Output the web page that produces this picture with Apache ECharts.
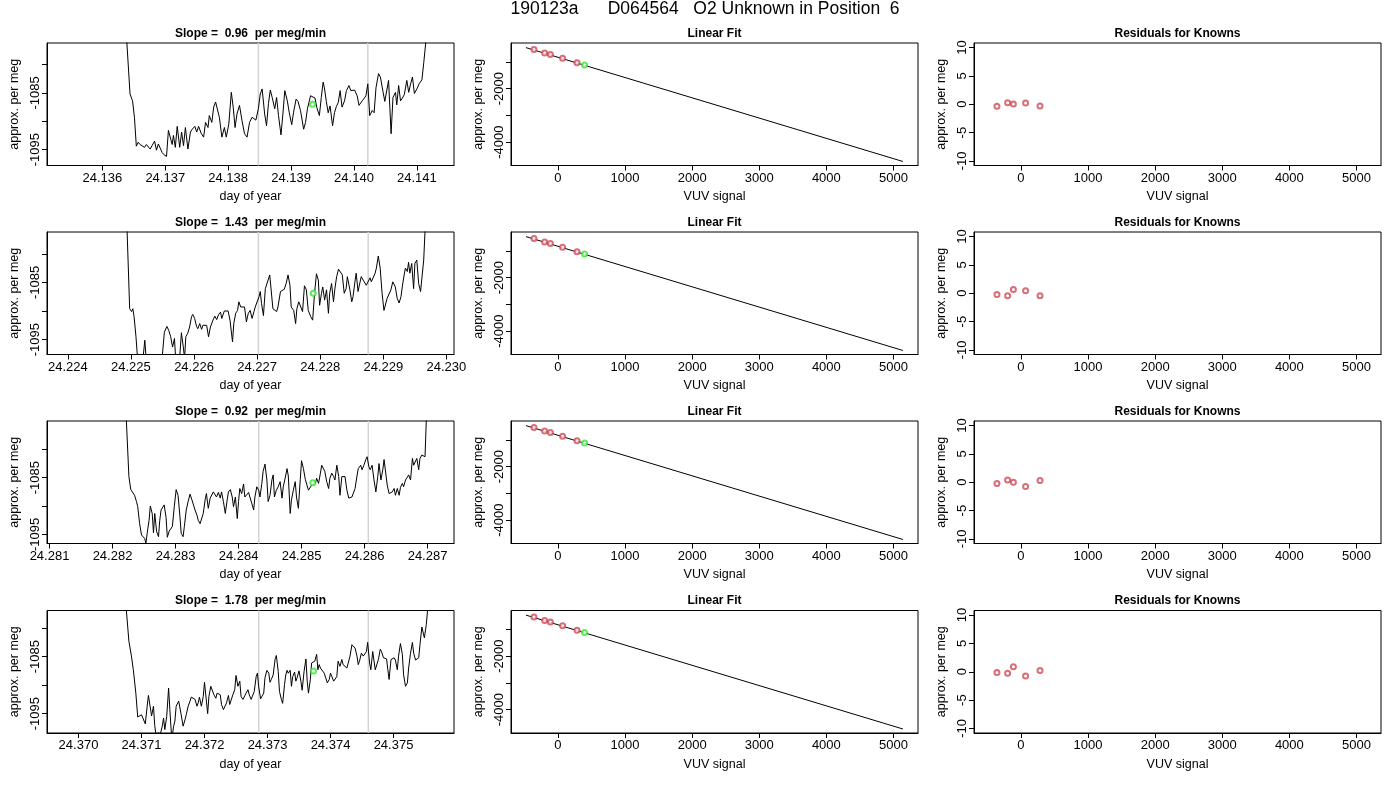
<!DOCTYPE html>
<html lang="en">
<head>
    <meta charset="UTF-8">
    <title>190123a D064564 O2 Unknown in Position 6</title>
    <script src="https://cdn.jsdelivr.net/npm/echarts@6/dist/echarts.min.js"></script>
    <style>
        html, body {
            margin: 0;
            background: #fff;
        }

        #main {
            width: 1400px;
            height: 800px;
        }
    </style>
</head>
<body>
<div id="main"></div>
<script>
    // ---- data ----
    var mainTitle = '190123a      D064564   O2 Unknown in Position  6'
    var slopes = ['0.96', '1.43', '0.92', '1.78']

    // row 1 trace (day of year, approx. per meg)
    var t1 = [24.13634, 24.13639, 24.13644, 24.13648, 24.13651, 24.13654, 24.13657, 24.13660, 24.13663, 24.13667, 24.13670, 24.13673, 24.13676, 24.13679, 24.13683, 24.13686, 24.13689, 24.13692, 24.13695, 24.13698, 24.13702, 24.13705, 24.13708, 24.13711, 24.13713, 24.13716, 24.13719, 24.13723, 24.13726, 24.13729, 24.13732, 24.13736, 24.13740, 24.13743, 24.13747, 24.13750, 24.13753, 24.13757, 24.13761, 24.13764, 24.13768, 24.13770, 24.13774, 24.13777, 24.13780, 24.13783, 24.13786, 24.13790, 24.13794, 24.13797, 24.13801, 24.13805, 24.13808, 24.13811, 24.13814, 24.13818, 24.13822, 24.13826, 24.13830, 24.13834, 24.13838, 24.13841, 24.13844, 24.13848, 24.13851, 24.13854, 24.13858, 24.13861, 24.13864, 24.13867, 24.13870, 24.13874, 24.13877, 24.13880, 24.13884, 24.13887, 24.13890, 24.13894, 24.13897, 24.13901, 24.13904, 24.13908, 24.13911, 24.13915, 24.13920, 24.13923, 24.13926, 24.13931, 24.13934, 24.13938, 24.13941, 24.13945, 24.13948, 24.13951, 24.13953, 24.13956, 24.13959, 24.13962, 24.13966, 24.13969, 24.13972, 24.13975, 24.13978, 24.13981, 24.13985, 24.13988, 24.13992, 24.13995, 24.13998, 24.14001, 24.14005, 24.14008, 24.14013, 24.14016, 24.14019, 24.14022, 24.14025, 24.14029, 24.14032, 24.14035, 24.14039, 24.14042, 24.14046, 24.14049, 24.14052, 24.14055, 24.14059, 24.14062, 24.14066, 24.14068, 24.14071, 24.14074, 24.14077, 24.14080, 24.14084, 24.14087, 24.14090, 24.14093, 24.14096, 24.14100, 24.14104, 24.14108, 24.14111, 24.14114, 24.14120]
    var v1 = [-1040, -1076.2, -1085.2, -1086.4, -1089.3, -1094.4, -1093.7, -1094.1, -1093.9, -1094.6, -1094.1, -1094.0, -1094.9, -1094.3, -1093.5, -1095.1, -1094.0, -1093.7, -1095.5, -1095.9, -1096.2, -1091.6, -1091.4, -1094.1, -1092.5, -1094.6, -1090.9, -1094.6, -1091.9, -1094.3, -1091.1, -1094.9, -1091.9, -1091.4, -1090.9, -1091.9, -1090.9, -1092.1, -1092.8, -1090.2, -1091.1, -1089.0, -1090.2, -1087.5, -1086.6, -1086.4, -1089.3, -1092.8, -1091.1, -1092.8, -1090.5, -1084.9, -1087.5, -1091.1, -1088.7, -1087.2, -1089.9, -1092.2, -1092.8, -1090.2, -1089.3, -1089.0, -1089.8, -1087.8, -1085.2, -1084.3, -1088.7, -1090.8, -1086.9, -1084.5, -1085.8, -1087.8, -1085.8, -1089.0, -1092.4, -1088.7, -1084.6, -1086.4, -1088.4, -1090.6, -1088.4, -1086.1, -1086.5, -1088.1, -1091.4, -1090.2, -1087.8, -1085.5, -1085.6, -1085.9, -1087.6, -1089.0, -1085.8, -1083.1, -1084.1, -1086.5, -1088.5, -1087.3, -1090.8, -1088.5, -1087.4, -1086.7, -1084.6, -1087.5, -1086.4, -1084.6, -1083.7, -1084.6, -1084.9, -1084.5, -1085.5, -1087.2, -1086.4, -1086.0, -1085.5, -1083.4, -1089.0, -1088.1, -1088.5, -1084.1, -1081.6, -1082.2, -1084.7, -1086.5, -1086.6, -1082.8, -1092.2, -1085.8, -1084.9, -1087.1, -1083.7, -1086.4, -1085.9, -1085.3, -1082.8, -1084.9, -1083.4, -1082.2, -1085.1, -1084.3, -1083.3, -1082.7, -1079.6, -1076.2, -1040]

    // row 2 trace
    var t2 = [24.22488, 24.22494, 24.22498, 24.22501, 24.22503, 24.22505, 24.22508, 24.22511, 24.22514, 24.22519, 24.22522, 24.22525, 24.22529, 24.22533, 24.22538, 24.22542, 24.22546, 24.22550, 24.22553, 24.22557, 24.22560, 24.22563, 24.22566, 24.22569, 24.22571, 24.22575, 24.22577, 24.22580, 24.22583, 24.22585, 24.22587, 24.22590, 24.22593, 24.22596, 24.22598, 24.22601, 24.22604, 24.22606, 24.22609, 24.22612, 24.22614, 24.22617, 24.22620, 24.22623, 24.22626, 24.22630, 24.22633, 24.22636, 24.22639, 24.22642, 24.22644, 24.22648, 24.22651, 24.22654, 24.22657, 24.22661, 24.22663, 24.22666, 24.22669, 24.22671, 24.22674, 24.22677, 24.22680, 24.22683, 24.22686, 24.22689, 24.22692, 24.22695, 24.22697, 24.22700, 24.22703, 24.22705, 24.22707, 24.22710, 24.22713, 24.22716, 24.22720, 24.22722, 24.22725, 24.22728, 24.22731, 24.22733, 24.22737, 24.22740, 24.22743, 24.22746, 24.22749, 24.22752, 24.22754, 24.22758, 24.22761, 24.22763, 24.22766, 24.22769, 24.22772, 24.22775, 24.22778, 24.22781, 24.22785, 24.22788, 24.22791, 24.22794, 24.22797, 24.22799, 24.22802, 24.22804, 24.22807, 24.22810, 24.22813, 24.22815, 24.22818, 24.22821, 24.22823, 24.22826, 24.22829, 24.22832, 24.22835, 24.22838, 24.22841, 24.22843, 24.22847, 24.22850, 24.22852, 24.22855, 24.22857, 24.22860, 24.22862, 24.22865, 24.22868, 24.22870, 24.22873, 24.22876, 24.22879, 24.22881, 24.22884, 24.22887, 24.22889, 24.22892, 24.22895, 24.22898, 24.22901, 24.22903, 24.22906, 24.22909, 24.22912, 24.22915, 24.22919, 24.22922, 24.22925, 24.22928, 24.22930, 24.22933, 24.22935, 24.22938, 24.22940, 24.22942, 24.22945, 24.22948, 24.22950, 24.22953, 24.22956, 24.22959, 24.22962, 24.22964, 24.22966, 24.22970]
    var v2 = [-1040, -1076.2, -1089.6, -1090.1, -1089.6, -1091.0, -1094.5, -1099.0, -1100.0, -1098.5, -1095.1, -1099.5, -1100.5, -1099.0, -1100.0, -1099.0, -1099.5, -1097.5, -1093.7, -1092.7, -1093.4, -1094.5, -1096.3, -1094.8, -1098.5, -1097.6, -1098.5, -1093.8, -1096.3, -1098.3, -1094.5, -1093.9, -1092.8, -1091.0, -1090.6, -1091.3, -1092.7, -1093.1, -1092.2, -1093.2, -1092.5, -1092.8, -1092.5, -1094.5, -1092.8, -1091.6, -1090.9, -1091.5, -1090.6, -1090.2, -1091.3, -1090.0, -1089.9, -1090.0, -1091.6, -1095.4, -1092.2, -1090.4, -1089.9, -1088.4, -1089.3, -1089.0, -1089.3, -1091.9, -1090.4, -1089.9, -1091.3, -1090.1, -1089.3, -1089.6, -1087.5, -1086.6, -1088.7, -1090.8, -1086.1, -1086.3, -1083.7, -1084.0, -1089.6, -1089.9, -1090.1, -1089.3, -1086.6, -1086.8, -1086.2, -1085.2, -1083.7, -1085.5, -1089.3, -1089.9, -1092.2, -1089.6, -1088.4, -1088.4, -1090.1, -1085.6, -1086.3, -1089.9, -1091.0, -1091.6, -1086.9, -1083.5, -1084.6, -1089.0, -1086.9, -1085.8, -1088.1, -1086.3, -1090.4, -1086.9, -1085.2, -1088.4, -1086.3, -1084.0, -1082.7, -1082.7, -1083.7, -1086.9, -1086.1, -1084.0, -1086.3, -1088.4, -1087.5, -1084.9, -1083.4, -1086.6, -1085.5, -1084.0, -1084.6, -1084.3, -1085.5, -1085.2, -1084.2, -1084.9, -1084.6, -1083.4, -1082.5, -1080.4, -1082.5, -1086.9, -1089.9, -1089.6, -1087.8, -1087.5, -1086.3, -1084.9, -1085.8, -1087.8, -1088.6, -1087.5, -1085.8, -1083.7, -1082.5, -1083.1, -1081.5, -1083.4, -1081.7, -1086.1, -1081.7, -1081.1, -1085.2, -1086.6, -1086.6, -1081.1, -1076.2, -1040]

    // row 3 trace
    var t3 = [24.28218, 24.28222, 24.28226, 24.28229, 24.28231, 24.28235, 24.28238, 24.28240, 24.28243, 24.28246, 24.28248, 24.28251, 24.28253, 24.28255, 24.28258, 24.28260, 24.28263, 24.28265, 24.28267, 24.28270, 24.28273, 24.28275, 24.28277, 24.28280, 24.28282, 24.28285, 24.28287, 24.28290, 24.28293, 24.28295, 24.28298, 24.28301, 24.28304, 24.28307, 24.28309, 24.28312, 24.28314, 24.28317, 24.28320, 24.28323, 24.28326, 24.28328, 24.28331, 24.28334, 24.28336, 24.28339, 24.28341, 24.28344, 24.28347, 24.28349, 24.28352, 24.28355, 24.28357, 24.28360, 24.28363, 24.28365, 24.28368, 24.28371, 24.28373, 24.28376, 24.28379, 24.28382, 24.28384, 24.28387, 24.28390, 24.28392, 24.28395, 24.28398, 24.28400, 24.28402, 24.28405, 24.28408, 24.28410, 24.28413, 24.28416, 24.28418, 24.28421, 24.28424, 24.28426, 24.28429, 24.28432, 24.28434, 24.28437, 24.28439, 24.28442, 24.28445, 24.28447, 24.28450, 24.28453, 24.28455, 24.28457, 24.28460, 24.28463, 24.28466, 24.28469, 24.28471, 24.28474, 24.28477, 24.28479, 24.28482, 24.28484, 24.28487, 24.28490, 24.28492, 24.28495, 24.28498, 24.28500, 24.28503, 24.28506, 24.28508, 24.28511, 24.28514, 24.28516, 24.28519, 24.28522, 24.28524, 24.28527, 24.28530, 24.28532, 24.28535, 24.28537, 24.28540, 24.28543, 24.28545, 24.28548, 24.28551, 24.28553, 24.28556, 24.28559, 24.28561, 24.28564, 24.28567, 24.28569, 24.28572, 24.28575, 24.28577, 24.28580, 24.28582, 24.28585, 24.28588, 24.28590, 24.28594, 24.28596, 24.28599, 24.28602, 24.28604, 24.28607, 24.28609, 24.28612, 24.28615, 24.28618, 24.28621, 24.28623, 24.28626, 24.28629, 24.28631, 24.28633, 24.28636, 24.28639, 24.28641, 24.28644, 24.28647, 24.28649, 24.28652, 24.28655, 24.28657, 24.28660, 24.28662, 24.28665, 24.28668, 24.28670, 24.28673, 24.28676, 24.28678, 24.28680, 24.28683, 24.28686, 24.28688, 24.28691, 24.28694, 24.28696, 24.28698, 24.28701]
    var v3 = [-1040, -1075.0, -1084.8, -1087.1, -1087.2, -1088.1, -1089.2, -1090.1, -1093.1, -1095.1, -1094.8, -1095.7, -1096.6, -1094.8, -1092.5, -1090.0, -1091.3, -1094.7, -1091.3, -1094.5, -1095.4, -1092.5, -1090.7, -1090.8, -1089.8, -1092.0, -1095.5, -1094.4, -1094.5, -1093.6, -1090.1, -1087.1, -1088.1, -1091.8, -1094.8, -1095.4, -1093.6, -1090.7, -1089.2, -1087.9, -1088.9, -1089.2, -1090.7, -1091.6, -1092.5, -1093.1, -1093.1, -1091.3, -1088.9, -1087.8, -1090.4, -1088.6, -1088.4, -1087.5, -1087.8, -1088.4, -1087.6, -1088.6, -1087.5, -1089.2, -1091.3, -1088.9, -1087.5, -1087.1, -1088.4, -1090.1, -1088.4, -1092.2, -1089.2, -1086.9, -1087.8, -1086.1, -1088.4, -1088.1, -1087.6, -1088.4, -1089.5, -1090.7, -1088.4, -1086.6, -1087.2, -1088.4, -1086.0, -1083.9, -1082.6, -1085.4, -1089.2, -1088.1, -1085.4, -1084.5, -1088.4, -1087.2, -1086.6, -1085.7, -1088.6, -1086.6, -1085.1, -1083.4, -1084.7, -1091.3, -1088.9, -1087.2, -1085.7, -1088.4, -1090.4, -1085.3, -1082.0, -1083.4, -1085.3, -1085.4, -1087.2, -1086.9, -1086.3, -1086.0, -1086.0, -1085.1, -1086.0, -1084.2, -1082.8, -1082.9, -1083.9, -1085.7, -1086.9, -1085.1, -1084.2, -1084.8, -1085.4, -1082.8, -1084.8, -1088.1, -1084.8, -1084.5, -1084.8, -1087.2, -1088.6, -1088.7, -1088.4, -1088.6, -1086.9, -1084.7, -1083.4, -1082.8, -1083.6, -1082.8, -1081.8, -1081.3, -1083.1, -1083.6, -1082.8, -1085.4, -1087.5, -1084.8, -1082.5, -1085.4, -1083.6, -1081.8, -1081.8, -1086.3, -1087.8, -1087.5, -1087.5, -1086.9, -1088.1, -1086.9, -1088.1, -1086.7, -1086.0, -1086.6, -1085.4, -1084.9, -1084.5, -1085.4, -1081.6, -1082.8, -1083.1, -1081.6, -1083.6, -1081.6, -1081.0, -1080.7, -1081.3, -1075.0, -1040]

    // row 4 trace
    var t4 = [24.37072, 24.37076, 24.37080, 24.37084, 24.37087, 24.37091, 24.37094, 24.37097, 24.37100, 24.37103, 24.37106, 24.37109, 24.37111, 24.37114, 24.37116, 24.37119, 24.37121, 24.37124, 24.37127, 24.37129, 24.37133, 24.37135, 24.37137, 24.37140, 24.37143, 24.37145, 24.37148, 24.37151, 24.37153, 24.37155, 24.37159, 24.37161, 24.37163, 24.37166, 24.37169, 24.37171, 24.37174, 24.37177, 24.37179, 24.37182, 24.37185, 24.37188, 24.37190, 24.37192, 24.37195, 24.37198, 24.37200, 24.37203, 24.37205, 24.37207, 24.37210, 24.37213, 24.37215, 24.37218, 24.37220, 24.37223, 24.37225, 24.37227, 24.37230, 24.37233, 24.37235, 24.37238, 24.37240, 24.37243, 24.37245, 24.37248, 24.37250, 24.37253, 24.37256, 24.37258, 24.37261, 24.37264, 24.37266, 24.37269, 24.37271, 24.37274, 24.37276, 24.37279, 24.37282, 24.37284, 24.37286, 24.37289, 24.37292, 24.37294, 24.37296, 24.37299, 24.37302, 24.37304, 24.37306, 24.37309, 24.37312, 24.37314, 24.37317, 24.37319, 24.37322, 24.37324, 24.37327, 24.37329, 24.37331, 24.37333, 24.37336, 24.37338, 24.37340, 24.37343, 24.37345, 24.37347, 24.37350, 24.37353, 24.37355, 24.37358, 24.37361, 24.37363, 24.37365, 24.37368, 24.37370, 24.37373, 24.37375, 24.37378, 24.37380, 24.37382, 24.37384, 24.37387, 24.37390, 24.37392, 24.37395, 24.37398, 24.37400, 24.37402, 24.37405, 24.37408, 24.37410, 24.37412, 24.37415, 24.37418, 24.37420, 24.37423, 24.37426, 24.37428, 24.37431, 24.37434, 24.37436, 24.37439, 24.37442, 24.37444, 24.37446, 24.37449, 24.37452, 24.37454, 24.37457, 24.37459, 24.37462, 24.37464, 24.37467, 24.37469, 24.37471, 24.37473, 24.37476, 24.37479, 24.37481, 24.37484, 24.37486, 24.37489, 24.37491, 24.37493, 24.37496, 24.37498, 24.37501, 24.37503, 24.37506, 24.37508, 24.37511, 24.37514, 24.37516, 24.37519, 24.37522, 24.37524, 24.37527, 24.37530, 24.37532, 24.37535, 24.37538, 24.37540, 24.37542, 24.37545, 24.37547, 24.37549, 24.37552, 24.37554, 24.37557]
    var v4 = [-1040, -1076.9, -1082.3, -1084.9, -1087.3, -1091.4, -1095.6, -1095.4, -1095.2, -1095.5, -1096.8, -1093.7, -1091.8, -1091.8, -1095.4, -1093.7, -1097.1, -1099.5, -1098.3, -1099.0, -1097.2, -1095.8, -1097.8, -1095.5, -1090.5, -1094.3, -1099.5, -1097.2, -1096.3, -1093.7, -1092.8, -1092.5, -1095.2, -1097.2, -1096.1, -1095.2, -1093.7, -1092.8, -1092.1, -1092.3, -1092.5, -1093.7, -1093.1, -1092.1, -1093.7, -1092.0, -1089.5, -1092.8, -1095.0, -1092.0, -1090.2, -1090.2, -1091.7, -1092.3, -1091.4, -1091.1, -1091.7, -1093.4, -1094.3, -1094.3, -1093.1, -1091.8, -1093.4, -1093.7, -1091.7, -1090.8, -1088.3, -1090.2, -1089.3, -1092.0, -1092.5, -1092.5, -1091.4, -1090.8, -1091.7, -1092.5, -1092.8, -1091.1, -1088.5, -1087.9, -1090.3, -1092.4, -1092.5, -1091.4, -1088.7, -1087.4, -1087.9, -1089.5, -1089.0, -1088.2, -1085.5, -1084.8, -1087.6, -1091.1, -1092.5, -1093.2, -1089.9, -1088.2, -1087.4, -1087.9, -1087.4, -1090.2, -1088.5, -1087.7, -1089.3, -1088.7, -1087.5, -1089.3, -1090.9, -1087.6, -1085.4, -1089.3, -1091.4, -1089.0, -1086.1, -1086.2, -1085.8, -1084.6, -1087.3, -1086.4, -1087.0, -1087.3, -1087.9, -1088.2, -1089.6, -1089.0, -1087.9, -1088.2, -1089.3, -1089.6, -1088.5, -1085.8, -1086.7, -1085.5, -1086.4, -1086.7, -1087.0, -1087.1, -1084.9, -1082.9, -1082.6, -1083.5, -1084.9, -1086.4, -1085.8, -1084.4, -1084.9, -1085.2, -1084.1, -1082.5, -1086.1, -1087.3, -1084.1, -1083.8, -1087.3, -1087.6, -1085.5, -1083.7, -1084.1, -1085.2, -1085.5, -1085.4, -1087.3, -1089.0, -1085.5, -1085.4, -1085.2, -1085.6, -1087.3, -1084.9, -1082.7, -1084.6, -1088.2, -1090.2, -1089.6, -1087.0, -1084.4, -1082.5, -1084.4, -1085.6, -1085.4, -1085.2, -1082.9, -1079.8, -1080.0, -1081.7, -1079.4, -1076.9, -1040]

    var traceDays = [t1, t2, t3, t4]
    var traceMeg = [v1, v2, v3, v4]

    // axis ranges and tick labels of the time panels
    var dayRange = [[24.13512, 24.14159], [24.22367, 24.23012], [24.28096, 24.28742], [24.36950, 24.37596]]
    var megRange = [[-1097.8, -1076.2], [-1097.6, -1076.2], [-1096.6, -1075.0], [-1098.4, -1076.9]]
    var dayTicks = [
        [24.136, 24.137, 24.138, 24.139, 24.140, 24.141],
        [24.224, 24.225, 24.226, 24.227, 24.228, 24.229, 24.230],
        [24.281, 24.282, 24.283, 24.284, 24.285, 24.286, 24.287],
        [24.370, 24.371, 24.372, 24.373, 24.374, 24.375]
    ]
    var megTicks = [-1095, -1090, -1085, -1080]
    var megLabels = [-1095, -1085]
    // gray window lines and the green unknown mean
    var windowDays = [[24.13848, 24.14022], [24.22702, 24.22876], [24.28432, 24.28606], [24.37286, 24.37460]]
    var unknownDay = [24.13934, 24.22789, 24.28518, 24.37373]
    var unknownMeg = [-1087.0, -1086.9, -1085.9, -1087.5]

    // linear fit panels
    var knownVuv = [-358, -199, -113, 69, 284]
    var knownMeg = [-537, -665, -725, -864, -1025]
    var unknownVuv = 396
    var unknownFitMeg = -1115
    var fitVuv = [-477, 5141]
    var fitMeg = [-463, -4724]
    var vuvRange = [-700, 5366]
    var fitRange = [-4874, -290]
    var vuvTicks = [0, 1000, 2000, 3000, 4000, 5000]
    var fitTicks = [-4000, -3000, -2000, -1000]
    var fitLabels = [-4000, -2000]

    // residual panels
    var residuals = [
        [-0.35, 0.25, 0.05, 0.2, -0.3],
        [-0.2, -0.45, 0.65, 0.45, -0.45],
        [-0.2, 0.4, 0.0, -0.75, 0.3],
        [-0.15, -0.25, 0.9, -0.75, 0.2]
    ]
    var resRange = [-10.8, 10.8]
    var resTicks = [-10, -5, 0, 5, 10]

    // ---- layout ----
    var colLeft = [47, 511, 974]
    var rowTop = [43, 232, 421, 610.5]
    var plotW = 407
    var plotH = 122.5
    var font = '"Liberation Sans", Arial, Helvetica, sans-serif'
    var red = '#cf4a55'
    var green = '#33e633'

    function zip (xs, ys) {
        if (xs.length !== ys.length) throw new Error('length mismatch ' + xs.length + ' vs ' + ys.length)
        return xs.map((x, i) => [x, ys[i]])
    }

    function makeXAxis (gridIndex, range, ticks, labels, name, fmt) {
        return {
            gridIndex: gridIndex,
            type: 'value',
            min: range[0],
            max: range[1],
            name: name,
            nameLocation: 'middle',
            nameGap: 25,
            nameMoveOverlap: false,
            nameTextStyle: {color: '#000', fontSize: 12.5, fontFamily: font},
            axisLine: {show: true, onZero: false, lineStyle: {color: '#000', width: 1}},
            axisTick: {show: true, inside: false, length: 5, customValues: ticks, lineStyle: {color: '#000'}},
            axisLabel: {
                show: true, margin: 6, color: '#000', fontSize: 13, fontFamily: font,
                customValues: labels, formatter: fmt
            },
            splitLine: {show: false}
        }
    }

    function makeYAxis (gridIndex, range, ticks, labels) {
        return {
            gridIndex: gridIndex,
            type: 'value',
            min: range[0],
            max: range[1],
            name: 'approx. per meg',
            nameLocation: 'middle',
            nameGap: 26,
            nameMoveOverlap: false,
            nameTextStyle: {color: '#000', fontSize: 12.5, fontFamily: font},
            axisLine: {show: true, onZero: false, lineStyle: {color: '#000', width: 1}},
            axisTick: {show: true, inside: false, length: 5, customValues: ticks, lineStyle: {color: '#000'}},
            axisLabel: {
                show: true, margin: 5, rotate: 90, color: '#000', fontSize: 13, fontFamily: font,
                customValues: labels, formatter: v => String(v)
            },
            splitLine: {show: false}
        }
    }

    function circles (gi, data, color, z) {
        return {
            type: 'scatter',
            xAxisIndex: gi,
            yAxisIndex: gi,
            data: data,
            symbol: 'emptyCircle',
            symbolSize: 5,
            z: z,
            itemStyle: {color: color, borderColor: color, borderWidth: 0.9}
        }
    }

    var grids = [], xAxes = [], yAxes = [], series = []
    var titles = [{
        text: mainTitle,
        left: 705,
        top: 0,
        textAlign: 'center',
        padding: 0,
        textStyle: {fontSize: 17.5, fontWeight: 'normal', color: '#000', fontFamily: font}
    }]
    var panelNames = ['', 'Linear Fit', 'Residuals for Knowns']

    for (var r = 0; r < 4; r++) {
        for (var c = 0; c < 3; c++) {
            grids.push({
                left: colLeft[c], top: rowTop[r], width: plotW, height: plotH,
                show: true, borderColor: '#000', borderWidth: 1, backgroundColor: 'transparent',
                containLabel: false, outerBoundsMode: 'none'
            })
            titles.push({
                text: c === 0 ? 'Slope =  ' + slopes[r] + '  per meg/min' : panelNames[c],
                left: colLeft[c] + plotW / 2,
                top: rowTop[r] - 15.5,
                textAlign: 'center',
                padding: 0,
                textStyle: {fontSize: 12, fontWeight: 'bold', color: '#000', fontFamily: font}
            })
        }

        // time trace panel
        var g0 = r * 3
        xAxes.push(makeXAxis(g0, dayRange[r], dayTicks[r], dayTicks[r], 'day of year', v => v.toFixed(3)))
        yAxes.push(makeYAxis(g0, megRange[r], megTicks, megLabels))
        windowDays[r].forEach(function (d) {
            series.push({
                type: 'line',
                xAxisIndex: g0,
                yAxisIndex: g0,
                data: [[d, megRange[r][0]], [d, megRange[r][1]]],
                symbol: 'none',
                silent: true,
                z: 1,
                lineStyle: {color: '#d3d3d3', width: 1.5}
            })
        })
        series.push({
            type: 'line',
            xAxisIndex: g0,
            yAxisIndex: g0,
            data: zip(traceDays[r], traceMeg[r]),
            symbol: 'none',
            clip: true,
            z: 3,
            lineStyle: {color: '#000', width: 1}
        })
        series.push(circles(g0, [[unknownDay[r], unknownMeg[r]]], green, 5))

        // linear fit panel
        var g1 = r * 3 + 1
        xAxes.push(makeXAxis(g1, vuvRange, vuvTicks, vuvTicks, 'VUV signal', v => String(v)))
        yAxes.push(makeYAxis(g1, fitRange, fitTicks, fitLabels))
        series.push({
            type: 'line',
            xAxisIndex: g1,
            yAxisIndex: g1,
            data: zip(fitVuv, fitMeg),
            symbol: 'none',
            z: 3,
            lineStyle: {color: '#000', width: 1}
        })
        series.push(circles(g1, zip(knownVuv, knownMeg), red, 4))
        series.push(circles(g1, [[unknownVuv, unknownFitMeg]], green, 5))

        // residual panel
        var g2 = r * 3 + 2
        xAxes.push(makeXAxis(g2, vuvRange, vuvTicks, vuvTicks, 'VUV signal', v => String(v)))
        yAxes.push(makeYAxis(g2, resRange, resTicks, resTicks))
        series.push(circles(g2, zip(knownVuv, residuals[r]), red, 4))
    }

    var chart = echarts.init(document.getElementById('main'))
    chart.setOption({
        animation: false,
        backgroundColor: '#fff',
        title: titles,
        grid: grids,
        xAxis: xAxes,
        yAxis: yAxes,
        series: series
    })
</script>
</body>
</html>
